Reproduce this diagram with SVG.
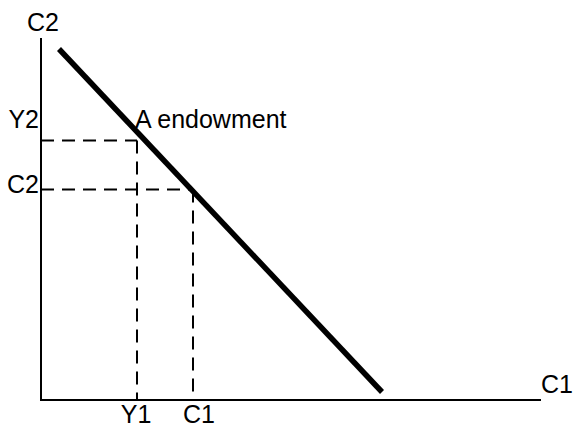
<svg xmlns="http://www.w3.org/2000/svg" width="574" height="426" viewBox="0 0 574 426">
<style>
.axis{stroke:#000;stroke-width:2;fill:none}
.dash{stroke:#000;stroke-width:2;fill:none;stroke-dasharray:13 8}
.budget{stroke:#000;stroke-width:5.5;fill:none}
text{font-family:"Liberation Sans",Arial,sans-serif;font-size:25px;fill:#000}
</style>
<rect width="574" height="426" fill="#fff"/>
<g id="connectors">
<line class="dash" x1="41" y1="140.5" x2="137" y2="140.5"/>
<line class="dash" x1="137" y1="140.5" x2="137" y2="400"/>
<line class="dash" x1="41" y1="189.5" x2="193" y2="189.5"/>
<line class="dash" x1="193" y1="189.5" x2="193" y2="400"/>
</g>
<g id="axes">
<line class="axis" x1="41" y1="38" x2="41" y2="400"/>
<line class="axis" x1="40" y1="400" x2="541" y2="400"/>
</g>
<g id="budget-line">
<line class="budget" x1="59" y1="49" x2="382" y2="392"/>
</g>
<g id="labels">
<text x="43" y="31" text-anchor="middle">C2</text>
<text x="39" y="128" text-anchor="end">Y2</text>
<text x="39" y="193" text-anchor="end">C2</text>
<text x="135" y="128">A endowment</text>
<text x="136" y="423" text-anchor="middle">Y1</text>
<text x="199" y="423" text-anchor="middle">C1</text>
<text x="573" y="393" text-anchor="end">C1</text>
</g>
</svg>
